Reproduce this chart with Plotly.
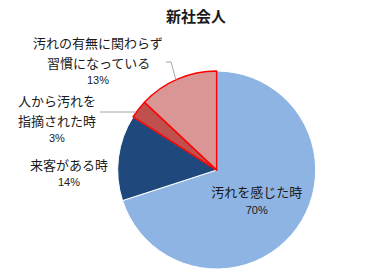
import plotly.graph_objects as go

title = "新社会人"
categories = ["汚れを感じた時", "来客がある時", "人から汚れを<br>指摘された時", "汚れの有無に関わらず<br>習慣になっている"]
values = [70, 14, 3, 13]
colors = ["#8DB4E2", "#1F497D", "#C0504D", "#DA9694"]
line_colors = ["#FFFFFF", "#FFFFFF", "#FF0000", "#FF0000"]
line_widths = [1, 1, 1.5, 1.5]

jp = "Noto Sans CJK JP"
num = "Liberation Sans Narrow, Arial Narrow, Liberation Sans"
txt_color = "#1A1A1A"

texts = [f"{categories[0]}<br><span style='font-family:{num};font-size:11px'>{values[0]}%</span>", "", "", ""]

fig = go.Figure(go.Pie(
    values=values,
    labels=categories,
    text=texts,
    textinfo="text",
    textposition="inside",
    insidetextorientation="horizontal",
    sort=False,
    direction="clockwise",
    rotation=0,
    marker=dict(colors=colors, line=dict(color=line_colors, width=line_widths)),
    textfont=dict(family=jp, size=13, color=txt_color),
    domain=dict(x=[0.3065, 0.822], y=[0.018, 0.741]),
    showlegend=False,
    hoverinfo="label+percent",
))

# outside labels: (slice index, centre x, y of first line) ; lines spaced 19px
outside = [
    (1, 69, 164),
    (2, 57, 101),
    (3, 98, 43),
]
step = 19
for idx, x, y0 in outside:
    lines = categories[idx].split("<br>")
    for k, ln in enumerate(lines):
        fig.add_annotation(
            x=x / 384, y=1 - (y0 + k * step) / 274, xref="paper", yref="paper",
            text=ln, showarrow=False, font=dict(family=jp, size=13, color=txt_color),
            xanchor="center", yanchor="middle",
        )
    fig.add_annotation(
        x=x / 384, y=1 - (y0 + len(lines) * step - 1) / 274, xref="paper", yref="paper",
        text=f"{values[idx]}%", showarrow=False, font=dict(family=num, size=11, color=txt_color),
        xanchor="center", yanchor="middle",
    )

# leader lines
fig.add_shape(type="line", xref="paper", yref="paper",
              x0=100/384, y0=1-112/274, x1=136/384, y1=1-112/274,
              line=dict(color="#A6A6A6", width=1))
fig.add_shape(type="line", xref="paper", yref="paper",
              x0=166/384, y0=1-62/274, x1=171/384, y1=1-62/274,
              line=dict(color="#A6A6A6", width=1))
fig.add_shape(type="line", xref="paper", yref="paper",
              x0=171/384, y0=1-62/274, x1=176/384, y1=1-80/274,
              line=dict(color="#A6A6A6", width=1))

fig.update_layout(
    width=384, height=274,
    margin=dict(l=0, r=0, t=0, b=0),
    paper_bgcolor="white", plot_bgcolor="white",
    title=dict(text=f"<b>{title}</b>", x=196/384, xanchor="center", y=1-17/274, yanchor="middle",
               font=dict(family=jp, size=15, color=txt_color)),
)

fig.write_html("out.html")
